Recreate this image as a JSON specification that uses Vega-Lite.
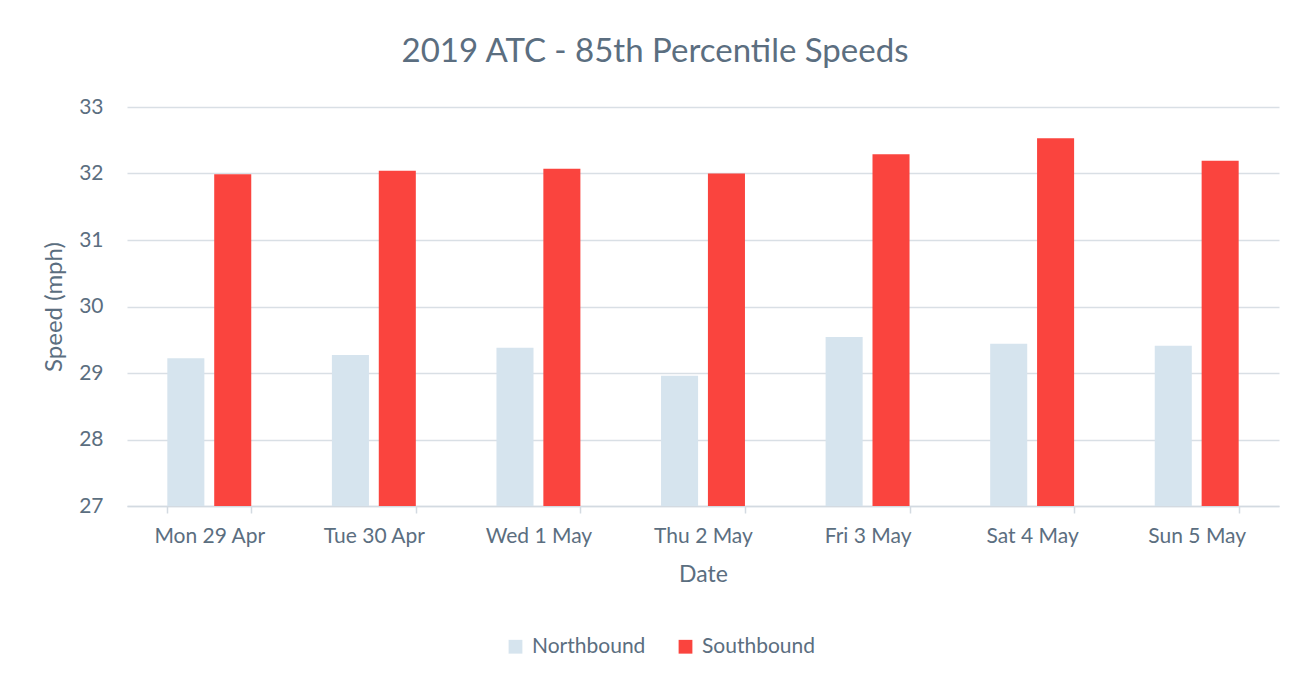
{
  "$schema": "https://vega.github.io/schema/vega-lite/v6.json",
  "autosize": {"type": "none"},
  "padding": {"left": 127, "top": 107, "right": 30, "bottom": 174},
  "width": 1152,
  "height": 399,
  "background": "white",
  "title": {
    "text": "2019 ATC - 85th Percentile Speeds",
    "fontSize": 33,
    "font": "Lato",
    "fontWeight": "normal",
    "color": "#5B6E80",
    "anchor": "middle",
    "dx": -48,
    "offset": 27
  },
  "data": {
    "values": [
      {"date": "Mon 29 Apr", "direction": "Northbound", "speed": 29.22},
      {"date": "Mon 29 Apr", "direction": "Southbound", "speed": 31.99},
      {"date": "Tue 30 Apr", "direction": "Northbound", "speed": 29.27},
      {"date": "Tue 30 Apr", "direction": "Southbound", "speed": 32.04},
      {"date": "Wed 1 May", "direction": "Northbound", "speed": 29.38},
      {"date": "Wed 1 May", "direction": "Southbound", "speed": 32.07},
      {"date": "Thu 2 May", "direction": "Northbound", "speed": 28.96},
      {"date": "Thu 2 May", "direction": "Southbound", "speed": 32.0},
      {"date": "Fri 3 May", "direction": "Northbound", "speed": 29.54},
      {"date": "Fri 3 May", "direction": "Southbound", "speed": 32.29},
      {"date": "Sat 4 May", "direction": "Northbound", "speed": 29.44},
      {"date": "Sat 4 May", "direction": "Southbound", "speed": 32.53},
      {"date": "Sun 5 May", "direction": "Northbound", "speed": 29.41},
      {"date": "Sun 5 May", "direction": "Southbound", "speed": 32.19}
    ]
  },
  "mark": {"type": "bar", "clip": true},
  "encoding": {
    "x": {
      "field": "date",
      "type": "nominal",
      "sort": ["Mon 29 Apr", "Tue 30 Apr", "Wed 1 May", "Thu 2 May", "Fri 3 May", "Sat 4 May", "Sun 5 May"],
      "scale": {"paddingInner": 0.49, "paddingOuter": 0.245},
      "axis": {
        "title": "Date",
        "labelAngle": 0,
        "tickBand": "extent",
        "ticks": true,
        "tickSize": 7,
        "tickColor": "#D3DAE1",
        "domainColor": "#D3DAE1",
        "domainWidth": 1.5,
        "tickWidth": 1.5,
        "labelPadding": 12,
        "titlePadding": 17,
        "titleFontSize": 23
      }
    },
    "xOffset": {
      "field": "direction",
      "type": "nominal",
      "sort": ["Northbound", "Southbound"],
      "scale": {"paddingInner": 0.21, "paddingOuter": 0}
    },
    "y": {
      "field": "speed",
      "type": "quantitative",
      "scale": {"domain": [27, 33], "zero": false, "nice": false},
      "axis": {
        "title": "Speed (mph)",
        "values": [27, 28, 29, 30, 31, 32, 33],
        "domain": false,
        "ticks": false,
        "grid": true,
        "gridColor": "#D9DFE5",
        "gridWidth": 1.5,
        "labelPadding": 24,
        "titlePadding": 12,
        "titleFontSize": 24
      }
    },
    "color": {
      "field": "direction",
      "type": "nominal",
      "scale": {"domain": ["Northbound", "Southbound"], "range": ["#D6E4EE", "#FA443E"]},
      "legend": {
        "title": null,
        "orient": "none",
        "direction": "horizontal",
        "legendX": 378,
        "legendY": 529,
        "symbolType": "square",
        "symbolSize": 190,
        "symbolStrokeWidth": 0,
        "labelFontSize": 21,
        "labelOffset": 6,
        "columnPadding": 29
      }
    }
  },
  "config": {
    "font": "Lato",
    "view": {"stroke": null},
    "axis": {
      "labelFont": "Lato",
      "titleFont": "Lato",
      "labelFontSize": 21,
      "titleFontSize": 22,
      "titleFontWeight": "normal",
      "labelColor": "#5B6E80",
      "titleColor": "#5B6E80"
    },
    "legend": {
      "labelFont": "Lato",
      "labelColor": "#5B6E80"
    }
  }
}
